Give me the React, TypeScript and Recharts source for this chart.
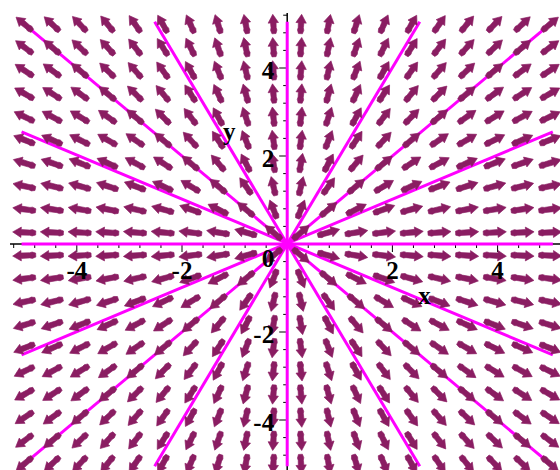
import { ScatterChart, Scatter, XAxis, YAxis } from "recharts";

// grid of the direction field (20 x 20 points, -5..5)
const GRID = [
  -5, -4.474, -3.947, -3.421, -2.895, -2.368, -1.842, -1.316, -0.789, -0.263,
  0.263, 0.789, 1.316, 1.842, 2.368, 2.895, 3.421, 3.947, 4.474, 5,
];

const TICKS = [
  -5.2, -4.8, -4.4, -4, -3.6, -3.2, -2.8, -2.4, -2, -1.6, -1.2, -0.8, -0.4,
  0.4, 0.8, 1.2, 1.6, 2, 2.4, 2.8, 3.2, 3.6, 4, 4.4, 4.8, 5.2,
];
const TICK_LABELS = [-4, -2, 2, 4];

// solution curves through the origin
const CURVE_2X = [{ x: -2.52, y: -5.05 }, { x: 2.52, y: 5.05 }];
const CURVE_M2X = [{ x: -2.52, y: 5.05 }, { x: 2.52, y: -5.05 }];
const CURVE_HALF = [{ x: -5.05, y: -2.52 }, { x: 5.05, y: 2.55 }];
const CURVE_MHALF = [{ x: -5.05, y: 2.55 }, { x: 5.05, y: -2.52 }];
const CURVE_1 = [{ x: -5.05, y: -5.05 }, { x: 5.05, y: 5.05 }];
const CURVE_M1 = [{ x: -5.05, y: 5.05 }, { x: 5.05, y: -5.05 }];
const CURVE_X = [{ x: -5.05, y: 0 }, { x: 5.05, y: 0 }];
const CURVE_Y = [{ x: 0, y: -5.05 }, { x: 0, y: 5.05 }];
const CURVES = [CURVE_2X, CURVE_M2X, CURVE_HALF, CURVE_MHALF, CURVE_1, CURVE_M1, CURVE_X, CURVE_Y];

const AXIS_H = [{ x: -5.27, y: 0 }, { x: 5.6, y: 0 }];
const AXIS_V = [{ x: 0, y: -5.6 }, { x: 0, y: 5.25 }];

const X_DOMAIN = [-5.27, 5.27];
const Y_DOMAIN = [-5.25, 5.25];

const W = 570;
const H = 480;
const MARGIN = { top: 13, left: 10, right: 5.6, bottom: 5 };
const KX = (W - MARGIN.left - MARGIN.right) / (X_DOMAIN[1] - X_DOMAIN[0]);
const KY = (H - MARGIN.top - MARGIN.bottom) / (Y_DOMAIN[1] - Y_DOMAIN[0]);
const ARROW_LEN = 0.44;

const ARROW_COLOR = "#8a1d62";
const CURVE_COLOR = "#ff00ff";
const FONT = "'Liberation Serif', 'DejaVu Serif', serif";
const FONT_SIZE = 25;

const arrows = GRID.flatMap((x) => GRID.map((y) => ({ x, y })));
const xTicks = TICKS.map((t) => ({ x: t, y: 0, major: TICK_LABELS.includes(t) }));
const yTicks = TICKS.map((t) => ({ x: 0, y: t, major: TICK_LABELS.includes(t) }));
const xLabels = TICK_LABELS.map((t) => ({ x: t, y: 0, text: String(t) }));
const yLabels = TICK_LABELS.map((t) => ({ x: 0, y: t, text: String(t) }));
const titles = [
  { x: 2.61, y: -1.24, text: "x" },
  { x: -1.1, y: 2.48, text: "y" },
];

const Empty = () => <g />;

const Arrow = (props: any) => {
  const { cx, cy, payload } = props;
  const r = Math.hypot(payload.x, payload.y);
  const dx = (payload.x / r) * KX;
  const dy = (-payload.y / r) * KY;
  const len = ARROW_LEN * Math.hypot(dx, dy);
  const ang = (Math.atan2(dy, dx) * 180) / Math.PI;
  const h = len / 2;
  const pts = [
    [-h, -2], [-h + 3.5, -3.2], [-h + 6, -2.6], [h - 8.5, -2.8], [h - 8.5, -5.2], [h, 0],
    [h - 8.5, 5.2], [h - 8.5, 2.8], [-h + 6, 2.6], [-h + 3.5, 3.2], [-h, 2],
  ].map((p) => p.join(",")).join(" ");
  return (
    <polygon
      points={pts}
      transform={`translate(${cx},${cy}) rotate(${ang})`}
      fill={ARROW_COLOR}
      stroke={ARROW_COLOR}
      strokeWidth={0.6}
      strokeLinejoin="round"
    />
  );
};

const XTick = (props: any) => {
  const { cx, cy, payload } = props;
  return <line x1={cx} y1={cy} x2={cx} y2={cy + (payload.major ? 8 : 4)} stroke="#000" strokeWidth={1} />;
};

const YTick = (props: any) => {
  const { cx, cy, payload } = props;
  return <line x1={cx} y1={cy} x2={cx - (payload.major ? 8 : 4)} y2={cy} stroke="#000" strokeWidth={1} />;
};

const label = (x: number, y: number, anchor: string, text: string) => (
  <text x={x} y={y} textAnchor={anchor} fontFamily={FONT} fontWeight="bold" fontSize={FONT_SIZE} fill="#000">
    {text}
  </text>
);

const XLabel = (props: any) => label(props.cx, props.cy + 35, "middle", props.payload.text);
const YLabel = (props: any) => label(props.cx - 13, props.cy + 11, "end", props.payload.text);
const OriginLabel = (props: any) => label(props.cx - 13, props.cy + 23, "end", "0");
const Title = (props: any) => label(props.cx, props.cy + 5, "middle", props.payload.text);

export default function App() {
  return (
    <div style={{ position: "fixed", left: 0, top: 0, width: 560, height: 470, overflow: "hidden", background: "#fff" }}>
      <ScatterChart width={W} height={H} margin={MARGIN}>
        <XAxis type="number" dataKey="x" domain={X_DOMAIN} allowDataOverflow hide />
        <YAxis type="number" dataKey="y" domain={Y_DOMAIN} allowDataOverflow hide />

        <Scatter data={AXIS_H} line={{ stroke: "#000", strokeWidth: 1.5 }} shape={Empty} isAnimationActive={false} />
        <Scatter data={AXIS_V} line={{ stroke: "#000", strokeWidth: 1.5 }} shape={Empty} isAnimationActive={false} />
        <Scatter data={xTicks} shape={XTick} isAnimationActive={false} />
        <Scatter data={yTicks} shape={YTick} isAnimationActive={false} />

        {CURVES.map((c, i) => (
          <Scatter key={i} data={c} line={{ stroke: CURVE_COLOR, strokeWidth: 3 }} shape={Empty} isAnimationActive={false} />
        ))}

        <Scatter data={arrows} shape={Arrow} isAnimationActive={false} />

        <Scatter data={xLabels} shape={XLabel} isAnimationActive={false} />
        <Scatter data={yLabels} shape={YLabel} isAnimationActive={false} />
        <Scatter data={[{ x: 0, y: 0 }]} shape={OriginLabel} isAnimationActive={false} />
        <Scatter data={titles} shape={Title} isAnimationActive={false} />
      </ScatterChart>
    </div>
  );
}
